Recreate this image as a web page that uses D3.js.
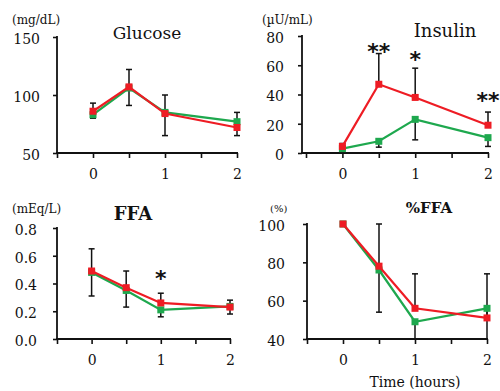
<!DOCTYPE html>
<html>
<head>
<meta charset="utf-8">
<script src="https://cdn.jsdelivr.net/npm/d3@7"></script>
<style>
  body { margin: 0; background: #fff; }
  text { font-family: "DejaVu Serif", "Liberation Serif", serif; fill: #111; }
</style>
</head>
<body>
<div id="chart"></div>
<script>
var svgWidth = 500;
var svgHeight = 391;

// Time points (hours)
var times = [0, 0.5, 1, 2];
var xTicks = [-0.5, 0, 0.5, 1, 1.5, 2];
var xTickLabels = {"0": "0", "1": "1", "2": "2"};

// Glucose (mg/dL)
var glucoseGreen = [83, 106, 85, 77];
var glucoseRed = [86, 107, 84, 72];
var glucoseGreenErr = [3, 15, 20, 12];
var glucoseRedErr = [7, 15, 16, 13];

// Insulin (uU/mL)
var insulinGreen = [3, 8, 23, 10.5];
var insulinRed = [4.5, 47, 38, 19];
var insulinGreenErr = [1, 4, 14, 6];
var insulinRedErr = [2, 21, 20, 9];
var insulinStars = [{t: 0.5, v: 71.5, s: "**"}, {t: 1, v: 66, s: "*"}, {t: 2, v: 38, s: "**"}];

// FFA (mEq/L)
var ffaGreen = [0.48, 0.35, 0.21, 0.235];
var ffaRed = [0.49, 0.37, 0.26, 0.23];
var ffaGreenErr = [0.17, 0.12, 0.05, 0.055];
var ffaRedErr = [0.16, 0.12, 0.07, 0.05];
var ffaStars = [{t: 1, v: 0.46, s: "*"}];

// %FFA (%)
var pctGreen = [100, 76, 49, 56];
var pctRed = [100, 78, 56, 51];
var pctGreenErr = [0, 22, 18, 23];
var pctRedErr = [0, 22, 18, 23];

var green = "#1ea84e";
var red = "#ee1c24";

var panels = [
  {title: "Glucose", unit: "(mg/dL)", green: glucoseGreen, red: glucoseRed,
   greenErr: glucoseGreenErr, redErr: glucoseRedErr, stars: [],
   yDomain: [50, 150], yTicks: [50, 100, 150], fmt: d3.format("d"),
   axisX: 57, left: 57, right: 237, top: 37, bottom: 153, labelGap: 17,
   titleX: 147, titleY: 39, titleSize: 17, titleWeight: "normal",
   unitX: 12, unitY: 24, unitSize: 12},
  {title: "Insulin", unit: "(\u00b5U/mL)", green: insulinGreen, red: insulinRed,
   greenErr: insulinGreenErr, redErr: insulinRedErr, stars: insulinStars,
   yDomain: [0, 80], yTicks: [0, 20, 40, 60, 80], fmt: d3.format("d"),
   axisX: 302, left: 306, right: 488, top: 36, bottom: 153, labelGap: 18,
   titleX: 445, titleY: 37, titleSize: 18, titleWeight: "normal",
   unitX: 262, unitY: 24, unitSize: 12},
  {title: "FFA", unit: "(mEq/L)", green: ffaGreen, red: ffaRed,
   greenErr: ffaGreenErr, redErr: ffaRedErr, stars: ffaStars,
   yDomain: [0, 0.8], yTicks: [0, 0.2, 0.4, 0.6, 0.8], fmt: d3.format(".1f"),
   axisX: 57, left: 57, right: 230, top: 228, bottom: 339, labelGap: 20,
   titleX: 133, titleY: 220, titleSize: 18, titleWeight: "bold",
   unitX: 12, unitY: 213, unitSize: 12},
  {title: "%FFA", unit: "(%)", green: pctGreen, red: pctRed,
   greenErr: pctGreenErr, redErr: pctRedErr, stars: [],
   yDomain: [40, 100], yTicks: [40, 60, 80, 100], fmt: d3.format("d"),
   axisX: 307, left: 307, right: 487, top: 224, bottom: 339, labelGap: 22,
   titleX: 429, titleY: 213, titleSize: 15, titleWeight: "bold",
   unitX: 270, unitY: 212, unitSize: 10}
];

var svg = d3.select("#chart")
  .append("svg")
  .attr("width", svgWidth)
  .attr("height", svgHeight);

panels.forEach(function(p) {
  var g = svg.append("g");

  var x = d3.scaleLinear().domain([-0.5, 2]).range([p.left, p.right]);
  var y = d3.scaleLinear().domain(p.yDomain).range([p.bottom, p.top]);
  var clampY = function(v) { return y(Math.max(p.yDomain[0], Math.min(p.yDomain[1], v))); };

  // x axis
  var xAxis = g.append("g")
    .attr("transform", `translate(0, ${p.bottom})`)
    .call(d3.axisBottom(x).tickValues(xTicks).tickSize(5).tickSizeOuter(0).tickPadding(11)
      .tickFormat(d => xTickLabels[String(d)] || ""));
  xAxis.select(".domain").remove();
  xAxis.selectAll("line").attr("stroke", "#111").attr("stroke-width", 1.6);
  xAxis.selectAll("text").attr("font-size", 14).style("font-family", "DejaVu Serif");
  g.append("line")
    .attr("x1", p.axisX - 1).attr("x2", p.right + 1)
    .attr("y1", p.bottom).attr("y2", p.bottom)
    .attr("stroke", "#111").attr("stroke-width", 1.8);

  // y axis
  var yAxis = g.append("g")
    .attr("transform", `translate(${p.axisX}, 0)`)
    .call(d3.axisLeft(y).tickValues(p.yTicks).tickSize(4).tickSizeOuter(0).tickFormat(p.fmt));
  yAxis.select(".domain").remove();
  yAxis.selectAll("line").attr("stroke", "#111").attr("stroke-width", 1.6);
  yAxis.selectAll("text")
    .attr("x", -p.labelGap)
    .attr("dy", "0.45em")
    .attr("font-size", 14)
    .style("font-family", "DejaVu Serif");
  g.append("line")
    .attr("x1", p.axisX).attr("x2", p.axisX)
    .attr("y1", p.top - 1).attr("y2", p.bottom)
    .attr("stroke", "#111").attr("stroke-width", 1.8);

  // titles
  g.append("text")
    .attr("x", p.titleX).attr("y", p.titleY)
    .attr("text-anchor", "middle")
    .attr("font-size", p.titleSize)
    .attr("font-weight", p.titleWeight)
    .text(p.title);
  g.append("text")
    .attr("x", p.unitX).attr("y", p.unitY)
    .attr("font-size", p.unitSize)
    .text(p.unit);

  // error bars: red goes up, green goes down
  var bars = [];
  times.forEach(function(t, i) {
    if (p.redErr[i] > 0) bars.push({t: t, from: p.red[i], to: p.red[i] + p.redErr[i]});
    if (p.greenErr[i] > 0) bars.push({t: t, from: p.green[i], to: p.green[i] - p.greenErr[i]});
  });
  var eb = g.append("g").selectAll("g").data(bars).enter().append("g");
  eb.append("line")
    .attr("x1", d => x(d.t)).attr("x2", d => x(d.t))
    .attr("y1", d => clampY(d.from)).attr("y2", d => clampY(d.to))
    .attr("stroke", "#111").attr("stroke-width", 1.5);
  eb.filter(d => d.to >= p.yDomain[0] && d.to <= p.yDomain[1])
    .append("line")
    .attr("x1", d => x(d.t) - 3).attr("x2", d => x(d.t) + 3)
    .attr("y1", d => y(d.to)).attr("y2", d => y(d.to))
    .attr("stroke", "#111").attr("stroke-width", 1.5);

  // series lines and square markers
  [{vals: p.green, color: green}, {vals: p.red, color: red}].forEach(function(s) {
    var pts = times.map((t, i) => [t, s.vals[i]]);
    g.append("path")
      .datum(pts)
      .attr("fill", "none")
      .attr("stroke", s.color)
      .attr("stroke-width", 2.2)
      .attr("d", d3.line().x(d => x(d[0])).y(d => y(d[1])));
    g.append("g").selectAll("rect")
      .data(pts)
      .enter()
      .append("rect")
      .attr("x", d => x(d[0]) - 3.5)
      .attr("y", d => y(d[1]) - 3.5)
      .attr("width", 7)
      .attr("height", 7)
      .attr("fill", s.color);
  });

  // significance marks
  g.selectAll(".star")
    .data(p.stars)
    .enter()
    .append("text")
    .attr("class", "star")
    .attr("x", d => x(d.t))
    .attr("y", d => y(d.v) + 11)
    .attr("text-anchor", "middle")
    .attr("font-size", 22)
    .attr("font-weight", "bold")
    .style("font-family", "DejaVu Sans")
    .text(d => d.s);
});

// shared x axis title
svg.append("text")
  .attr("x", 415)
  .attr("y", 387)
  .attr("text-anchor", "middle")
  .attr("font-size", 14)
  .text("Time (hours)");
</script>
</body>
</html>
